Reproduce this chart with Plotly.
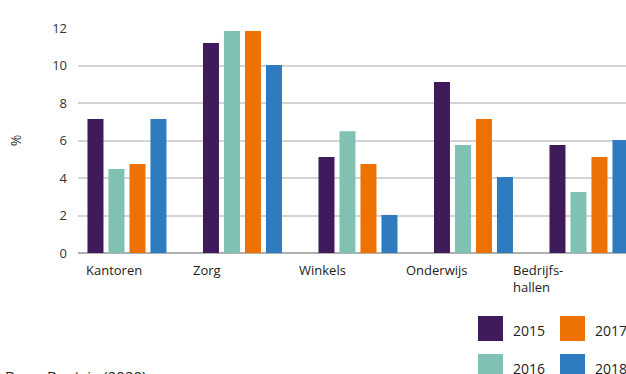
import plotly.graph_objects as go

categories = ["Kantoren", "Zorg", "Winkels", "Onderwijs", "Bedrijfs-<br>hallen"]
years = ["2015", "2016", "2017", "2018"]
v2015 = [7.15, 11.2, 5.12, 9.12, 5.76]
v2016 = [4.48, 11.84, 6.5, 5.76, 3.25]
v2017 = [4.75, 11.84, 4.75, 7.15, 5.12]
v2018 = [7.15, 10.03, 2.03, 4.05, 6.03]
series = [v2015, v2016, v2017, v2018]
colors = ["#3f1b5b", "#7fc1b3", "#ee7203", "#2f7bbf"]
y_ticks = [0, 2, 4, 6, 8, 10, 12]
source_text = "Bron: Bontsia (2020)"

W, H = 626, 374
L, R, T, B = 78, 0, 28, 374 - 253
pw, ph = W - L - R, H - T - B

def px(xw):
    return (xw - L) / pw

def py(yw):
    return (H - B - yw) / ph

FONT = "Open Sans"
fig = go.Figure()
xi = list(range(len(categories)))
for name, vals, col in zip(years, series, colors):
    fig.add_trace(go.Bar(x=xi, y=vals, name=name, marker=dict(color=col, line=dict(width=0)),
                         showlegend=False))

x_left = -0.424
x_right = x_left + pw / 115.5

fig.update_layout(
    width=W, height=H,
    margin=dict(l=L, r=R, t=T, b=B),
    paper_bgcolor="white", plot_bgcolor="white",
    barmode="group", bargap=0.273, bargroupgap=0.238,
    font=dict(family=FONT, size=13, color="#333333"),
)
fig.update_xaxes(range=[x_left, x_right], showticklabels=False, showgrid=False,
                 zeroline=False, showline=False, ticks="")
fig.update_yaxes(range=[0, 12], tickvals=y_ticks, showgrid=True, gridcolor="#d4d4d4",
                 gridwidth=1.5, zeroline=True, zerolinecolor="#b0b0b0", zerolinewidth=1.5,
                 showline=False, ticks="", ticklabelstandoff=10,
                 tickfont=dict(family=FONT, size=13, color="#333333"),
                 title=dict(text="%", font=dict(family=FONT, size=14, color="#333333"), standoff=27))

# category labels (left aligned, evenly spaced)
for i, c in enumerate(categories):
    fig.add_annotation(x=i * 0.925 - 0.375, y=py(259), xref="x", yref="paper", text=c,
                       showarrow=False, xanchor="left", yanchor="top", align="left",
                       font=dict(family=FONT, size=13, color="#222222"))

# legend (2 columns, column-major)
leg_pos = {"2015": (478, 316), "2016": (478, 354), "2017": (560, 316), "2018": (560, 354)}
for name, col in zip(years, colors):
    x0, y0 = leg_pos[name]
    fig.add_shape(type="rect", xref="paper", yref="paper", x0=px(x0), x1=px(x0 + 25),
                  y0=py(y0 + 25), y1=py(y0), fillcolor=col, line=dict(width=0))
    fig.add_annotation(x=px(x0 + 33), y=py(y0 + 14), xref="paper", yref="paper", text=name,
                       showarrow=False, xanchor="left", yanchor="middle",
                       font=dict(family=FONT, size=14, color="#222222"))

fig.add_annotation(x=px(3), y=py(364), xref="paper", yref="paper", text=source_text,
                   showarrow=False, xanchor="left", yanchor="top",
                   font=dict(family=FONT, size=15, color="#222222"))

fig.write_html(
    "out.html",
    config={"displayModeBar": False},
    post_script="document.body.style.margin='0';document.body.style.overflow='hidden';"
                "document.documentElement.style.overflow='hidden';",
)
